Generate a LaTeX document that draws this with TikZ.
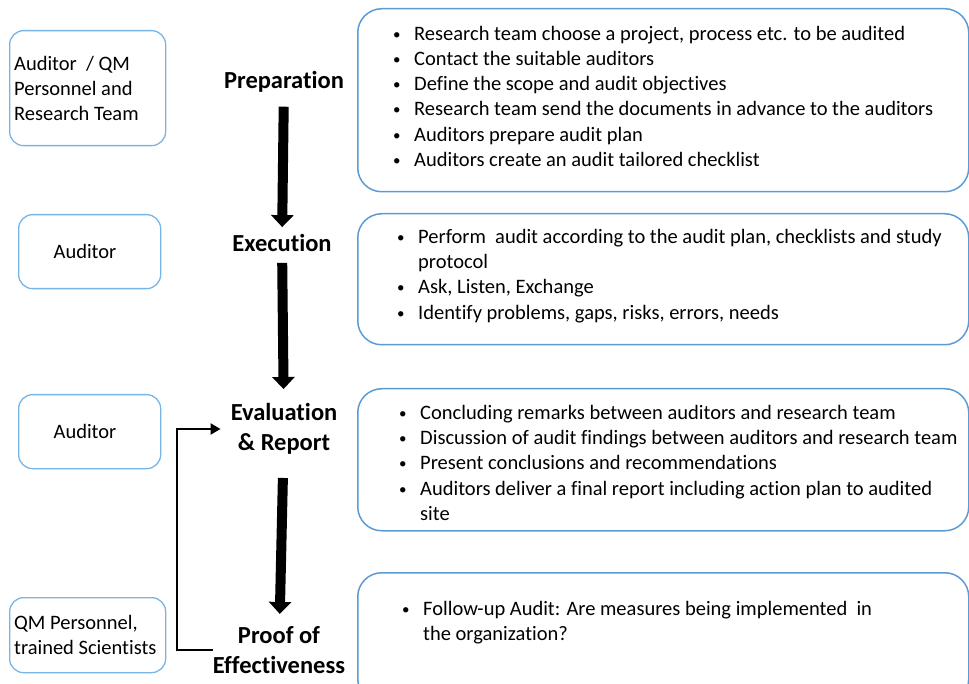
\documentclass[tikz,border=0pt]{standalone}
\usepackage{fontspec}
\setmainfont{Carlito}[Ligatures=NoCommon]
\usepackage{tikz}
\usetikzlibrary{
  positioning,
  arrows.meta
}
\definecolor{boxblue}{RGB}{91,155,213}
\definecolor{rolblue}{RGB}{120,180,228}
\newcommand{\bul}{\makebox[20pt][l]{\hspace*{-1pt}\raisebox{1pt}{\fontsize{15}{15}\selectfont\textbullet}}}
\newcommand{\cont}{\hspace*{20pt}}

\begin{document}
\begin{tikzpicture}[
  x=1pt, y=-1pt,
  rolebox/.style={draw=rolblue, line width=1.3pt, rounded corners=14pt, anchor=north west, align=flush left, font=\fontsize{20.5}{25}\selectfont, inner ysep=0pt},
  stage/.style={font=\fontsize{24.5}{30.5}\selectfont\bfseries, align=center, inner sep=0pt},
  stepbox/.style={draw=boxblue, line width=1.5pt, rounded corners=24pt, anchor=north west, minimum width=611pt, inner sep=0pt},
  items/.style={anchor=west, align=left, inner sep=0pt, font=\fontsize{20.5}{25.3}\selectfont},
  flow/.style={line width=10pt, -{Triangle[width=22pt,length=12pt]}},
  feedback/.style={line width=2.2pt, -{Triangle[width=11pt,length=10pt]}},
]
\useasboundingbox (0,0) rectangle (969,684);
\clip (0,0) rectangle (969,684);

% Rollen (links)
\node[rolebox, inner xsep=4.5pt, text width=147pt, minimum height=115pt] (team) at (9,30) {Auditor\ \ / QM\\Personnel and\\Research Team};
\node[rolebox, inner xsep=35pt, text width=72pt, minimum height=74pt] (auditA) at (18,214) {Auditor};
\node[rolebox, inner xsep=35pt, text width=72pt, minimum height=74pt] (auditB) at (18,394) {Auditor};
\node[rolebox, inner xsep=4.5pt, text width=147pt, minimum height=75pt] (qm) at (9,597) {QM Personnel,\\trained Scientists};

% Phasen (Mitte)
\node[stage] (prep) at (284,82) {Preparation};
\node[stage] (exec) at (282,243) {Execution};
\node[stage] (eval) at (284,429) {Evaluation\\\& Report};
\node[stage] (proof) at (279,650) {Proof of\\Effectiveness};

\draw[flow, shorten <=14pt, shorten >=7pt] (prep) -- (exec);
\draw[flow, shorten <=11pt, shorten >=14pt] (exec) -- (eval);
\draw[flow, shorten <=23pt, shorten >=12pt] (eval) -- (proof);
\draw[feedback, shorten >=10pt] (proof.west) -- ++(-36,0) |- (eval.west);

% Aufgaben (rechts)
\node[stepbox, minimum height=183pt] (prepbox) at (357,8) {};
\node[items] (prepitems) at ([xshift=37pt, yshift=4pt]prepbox.west) {%
  \bul Research team choose a project, process etc. to be audited\\
  \bul Contact the suitable auditors\\
  \bul Define the scope and audit objectives\\
  \bul Research team send the documents in advance to the auditors\\
  \bul Auditors prepare audit plan\\
  \bul Auditors create an audit tailored checklist};

\node[stepbox, minimum height=131pt] (execbox) at (357,213) {};
\node[items] (execitems) at ([xshift=41pt, yshift=3.5pt]execbox.west) {%
  \bul Perform\ \ audit according to the audit plan, checklists and study\\
  \cont protocol\\
  \bul Ask, Listen, Exchange\\
  \bul Identify problems, gaps, risks, errors, needs};

\node[stepbox, minimum height=142pt] (evalbox) at (357,388) {};
\node[items] (evalitems) at ([xshift=43pt, yshift=-3pt]evalbox.west) {%
  \bul Concluding remarks between auditors and research team\\
  \bul Discussion of audit findings between auditors and research team\\
  \bul Present conclusions and recommendations\\
  \bul Auditors deliver a final report including action plan to audited\\
  \cont site};

\node[stepbox, minimum height=130pt] (proofbox) at (357,572) {};
\node[items] (proofitems) at ([xshift=46pt, yshift=15pt]proofbox.west) {%
  \bul Follow-up Audit: Are measures being implemented\ \ in\\
  \cont the organization?};

\end{tikzpicture}
\end{document}
